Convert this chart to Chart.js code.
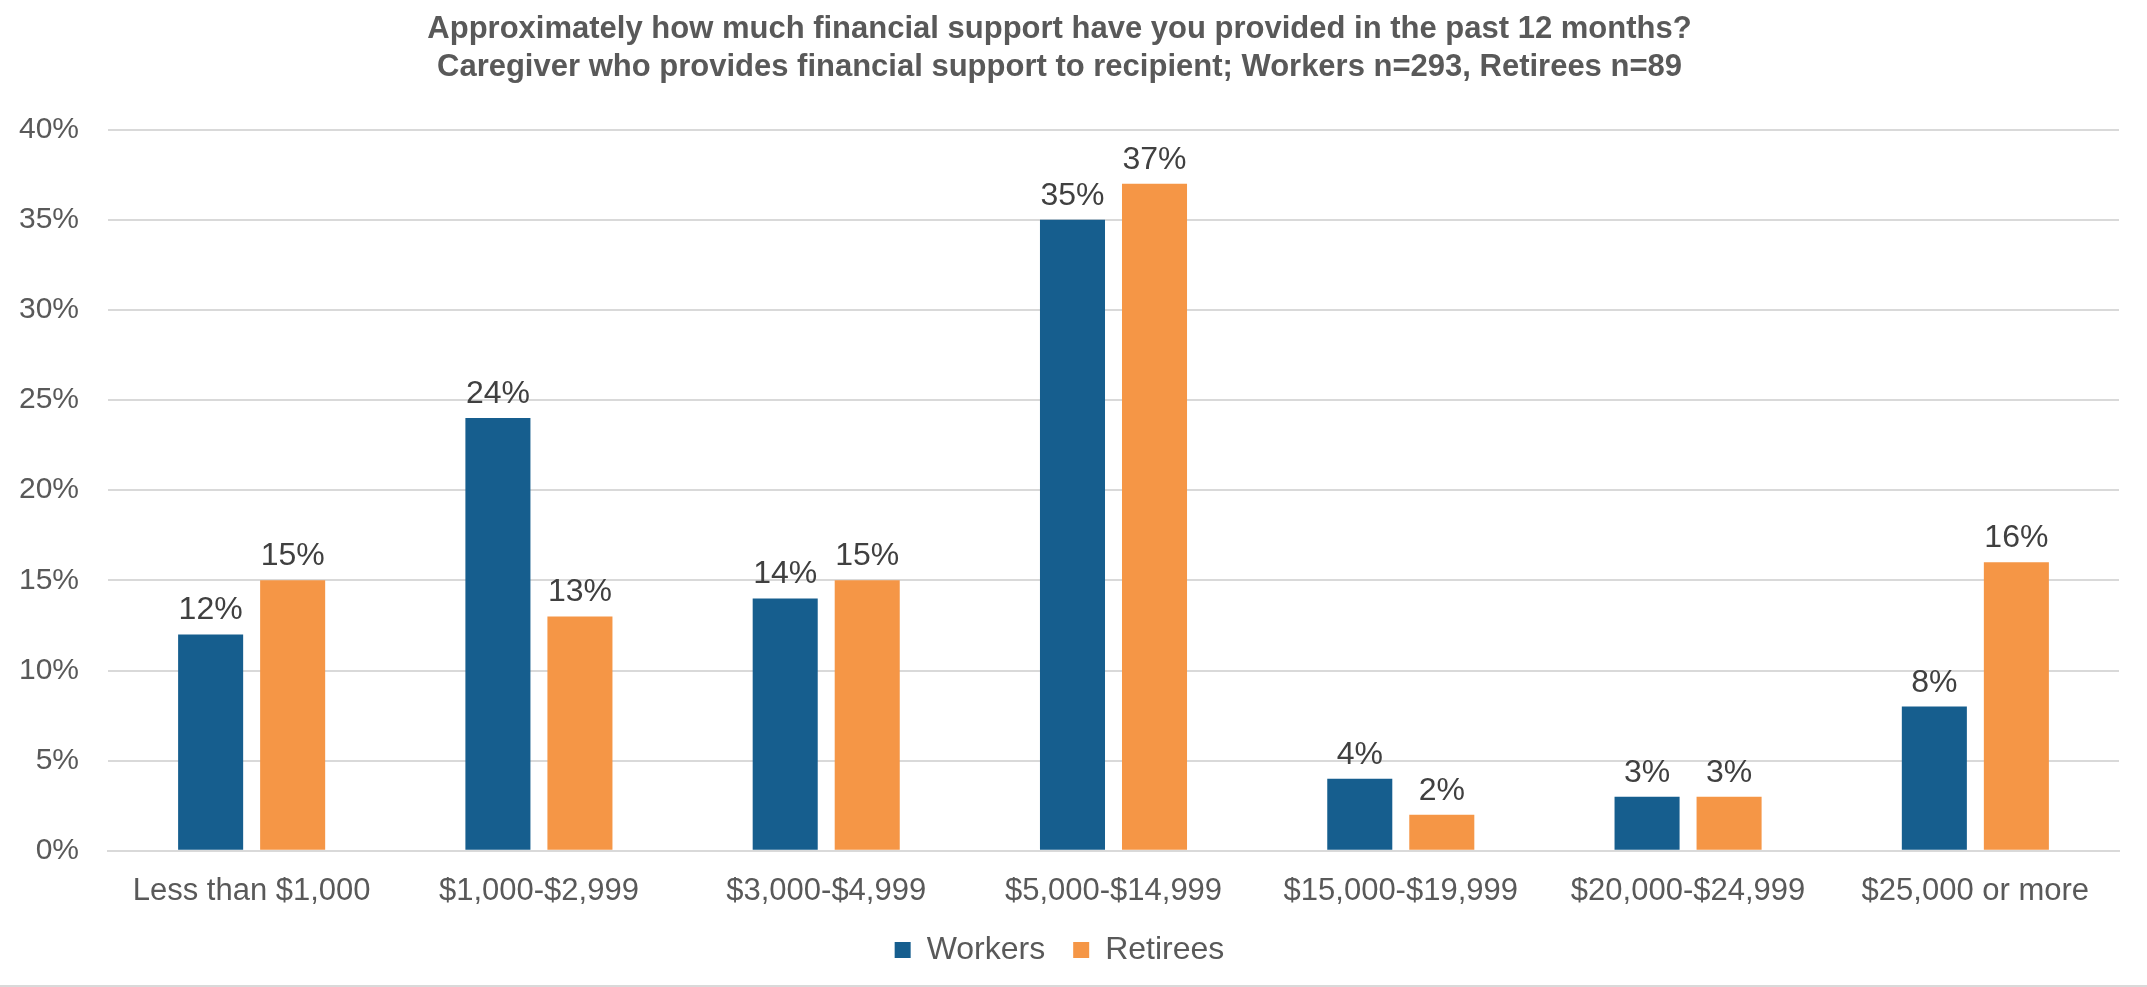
<!DOCTYPE html>
<html>
<head>
<meta charset="utf-8">
<title>Financial support provided</title>
<script src="https://cdn.jsdelivr.net/npm/chart.js@4"></script>
<style>
    html, body { margin: 0; padding: 0; background: #ffffff; }
    #wrap { width: 2147px; height: 987px; }
</style>
</head>
<body>
<div id="wrap"><canvas id="supportChart"></canvas></div>
<script>
// amount ranges on the x axis
const categories = ["Less than $1,000", "$1,000-$2,999", "$3,000-$4,999", "$5,000-$14,999",
    "$15,000-$19,999", "$20,000-$24,999", "$25,000 or more"];

// share of caregivers, in percent
const workers = [12, 24, 14, 35, 4, 3, 8];
const retirees = [15, 13, 15, 37, 2, 3, 16];

const titleLines = [
    "Approximately how much financial support have you provided in the past 12 months?",
    "Caregiver who provides financial support to recipient; Workers n=293, Retirees n=89"
];

const FONT = "'Liberation Sans', Arial, sans-serif";

// value labels above each bar
const barLabels = {
    id: "barLabels",
    afterDatasetsDraw(chart) {
        const ctx = chart.ctx;
        ctx.save();
        ctx.font = "32px " + FONT;
        ctx.fillStyle = "#404040";
        ctx.textAlign = "center";
        ctx.textBaseline = "alphabetic";
        chart.data.datasets.forEach((ds, i) => {
            chart.getDatasetMeta(i).data.forEach((bar, j) => {
                ctx.fillText(ds.data[j] + "%", bar.x, bar.y - 15);
            });
        });
        ctx.restore();
    }
};

// thin rule along the bottom edge
const bottomRule = {
    id: "bottomRule",
    afterDraw(chart) {
        const ctx = chart.ctx;
        ctx.save();
        ctx.strokeStyle = "#d9d9d9";
        ctx.lineWidth = 2;
        ctx.beginPath();
        ctx.moveTo(0, chart.height - 1);
        ctx.lineTo(chart.width, chart.height - 1);
        ctx.stroke();
        ctx.restore();
    }
};

new Chart(document.getElementById("supportChart"), {
    type: "bar",
    data: {
        labels: categories,
        datasets: [{
            label: "Workers",
            data: workers,
            backgroundColor: "#165e8e",
            categoryPercentage: 0.571,
            barPercentage: 0.793
        }, {
            label: "Retirees",
            data: retirees,
            backgroundColor: "#f59646",
            categoryPercentage: 0.571,
            barPercentage: 0.793
        }]
    },
    options: {
        responsive: true,
        maintainAspectRatio: false,
        animation: false,
        devicePixelRatio: 1,
        layout: { padding: { left: 0, right: 28, top: 6, bottom: 11 } },
        plugins: {
            title: {
                display: true,
                text: titleLines,
                color: "#595959",
                font: { family: FONT, size: 31, weight: "bold", lineHeight: 1.22 },
                padding: { top: 5, bottom: 43 }
            },
            legend: {
                position: "bottom",
                labels: {
                    color: "#595959",
                    font: { family: FONT, size: 32 },
                    boxWidth: 16,
                    boxHeight: 16,
                    padding: 28
                }
            },
            tooltip: { enabled: false }
        },
        scales: {
            x: {
                grid: { display: false, drawTicks: false },
                border: { display: true, color: "#d9d9d9", width: 2 },
                // the legend box is tall, so pull the plot down into it a little
                afterFit(scale) { scale.height -= 26; },
                ticks: {
                    color: "#595959",
                    font: { family: FONT, size: 31 },
                    padding: 22,
                    maxRotation: 0,
                    autoSkip: false
                }
            },
            y: {
                min: 0,
                max: 40,
                grid: { color: "#d9d9d9", lineWidth: 2, drawTicks: false },
                border: { display: false },
                afterFit(scale) { scale.width = 108; },
                ticks: {
                    stepSize: 5,
                    color: "#595959",
                    font: { family: FONT, size: 30 },
                    padding: 29,
                    callback: v => v + "%"
                }
            }
        }
    },
    plugins: [barLabels, bottomRule]
});
</script>
</body>
</html>
